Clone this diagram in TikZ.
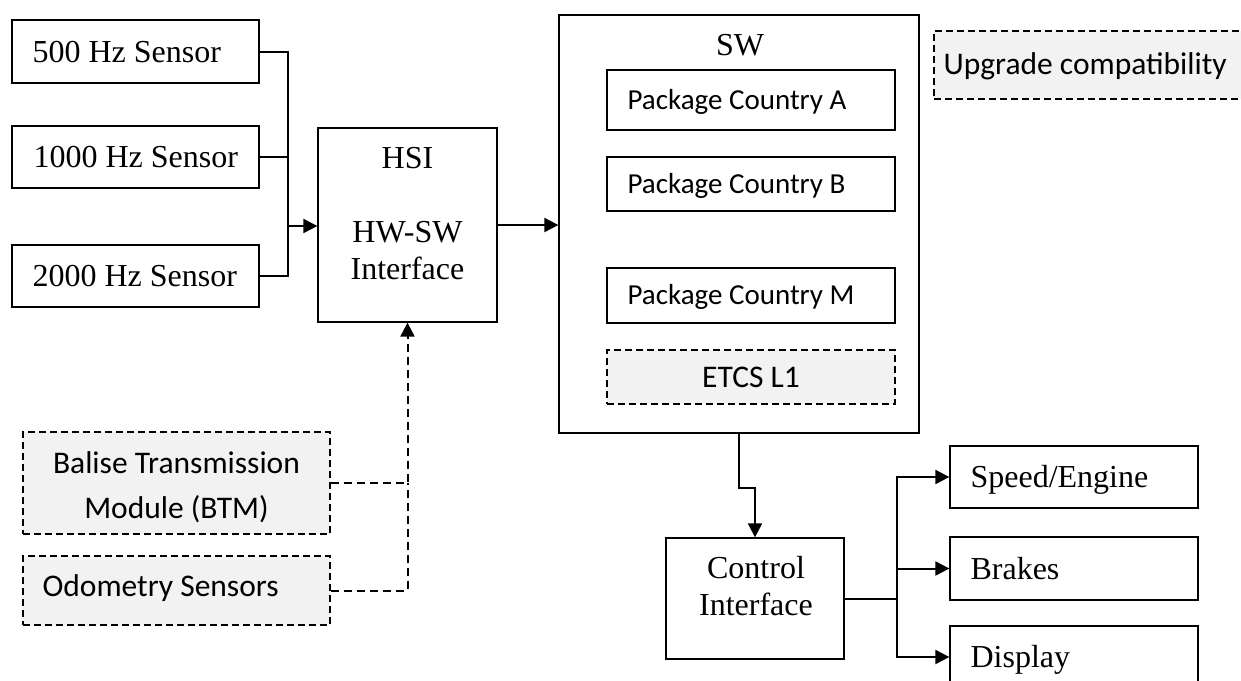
\documentclass[tikz,border=0pt]{standalone}
\usepackage{fontspec}
\setmainfont{Liberation Serif}
\newfontfamily\calibri{Carlito}
\usetikzlibrary{arrows.meta}
\definecolor{shade}{HTML}{F2F2F2}

\tikzset{
  frame/.style={draw, line width=1.3pt, rectangle, inner sep=0pt},
  serif/.style={font=\fontsize{32}{37}\selectfont},
  sans/.style={font=\fontsize{31.5}{37}\selectfont\calibri},
  pkgfont/.style={font=\fontsize{29}{34}\selectfont\calibri},
  dbox/.style={frame, fill=shade, dash pattern=on 7pt off 4pt},
  % single-line text, vertically centred on its capitals
  ltxt/.style={anchor=west, inner sep=0pt, text depth=0pt},
  stxt/.style={ltxt, serif, text height=21.5pt},
  ptxt/.style={ltxt, pkgfont, text height=18.7pt},
  ctxt/.style={ltxt, sans, text height=20.3pt},
  txt/.style={anchor=base, inner sep=0pt},
  conn/.style={line width=2pt},
  dconn/.style={line width=2pt, dash pattern=on 8pt off 5pt},
  tip/.style={-{Triangle[length=14pt,width=14pt]}},
}

\begin{document}
\begin{tikzpicture}[x=1pt, y=-1pt]
\useasboundingbox (0,0) rectangle (1241,680);
\clip (0,0) rectangle (1241,680);
\fill[white] (0,0) rectangle (1241,680);

% sensors
\node[frame, minimum width=247pt, minimum height=63pt] (s500)  at (135.5,51.5) {};
\node[frame, minimum width=247pt, minimum height=62pt] (s1000) at (135.5,157)  {};
\node[frame, minimum width=247pt, minimum height=62pt] (s2000) at (135.5,276)  {};
\node[stxt] (t500)  at ([xshift=21pt]s500.west)  {500 Hz Sensor};
\node[stxt] (t1000) at ([xshift=22pt]s1000.west) {1000 Hz Sensor};
\node[stxt] (t2000) at ([xshift=21pt]s2000.west) {2000 Hz Sensor};

% hardware/software interface
\node[frame, minimum width=179pt, minimum height=194pt] (hsi) at (407.5,225) {};
\node[txt, serif] (hsi1) at (407.5,168) {HSI};
\node[txt, serif] (hsi2) at (407.5,242) {HW-SW};
\node[txt, serif] (hsi3) at (407.5,279) {Interface};

% software block with country packages
\node[frame, minimum width=360pt, minimum height=418pt] (sw) at (739,224) {};
\node[txt, serif] (swl) at (740,55) {SW};
\node[frame, minimum width=288pt, minimum height=60pt] (pA) at (751,100)   {};
\node[frame, minimum width=288pt, minimum height=54pt] (pB) at (751,184)   {};
\node[frame, minimum width=288pt, minimum height=55pt] (pM) at (751,295.5) {};
\node[ptxt] (tA) at ([xshift=21pt]pA.west) {Package Country A};
\node[ptxt] (tB) at ([xshift=21pt]pB.west) {Package Country B};
\node[ptxt] (tM) at ([xshift=21pt]pM.west) {Package Country M};
\node[dbox, sans, minimum width=288pt, minimum height=54pt,
      text height=20pt, text depth=0pt] (etcs) at (751,377) {ETCS L1};

\node[dbox, minimum width=311pt, minimum height=68pt] (upg) at (1089.5,65) {};
\node[ctxt, text depth=2pt] (tupg) at ([xshift=10pt]upg.west) {Upgrade compatibility};

% optional inputs
\node[dbox, minimum width=307pt, minimum height=102pt] (btm) at (176.5,483) {};
\node[txt, sans] (btm1) at (176.5,473) {Balise Transmission};
\node[txt, sans] (btm2) at (176.5,518) {Module (BTM)};
\node[dbox, minimum width=307pt, minimum height=69pt] (odo) at (176.5,590.5) {};
\node[ctxt, text depth=9pt] (todo) at ([xshift=20pt]odo.west) {Odometry Sensors};

% control interface and outputs
\node[frame, minimum width=178pt, minimum height=121pt] (ctrl) at (755,598.5) {};
\node[txt, serif] (ctrl1) at (756,578) {Control};
\node[txt, serif] (ctrl2) at (756,615) {Interface};

\node[frame, minimum width=248pt, minimum height=62pt] (speed)   at (1074,477)   {};
\node[frame, minimum width=248pt, minimum height=63pt] (brakes)  at (1074,568.5) {};
\node[frame, minimum width=248pt, minimum height=62pt] (display) at (1074,657)   {};
\node[stxt] (tspeed)   at ([xshift=21pt]speed.west)   {Speed/Engine};
\node[stxt] (tbrakes)  at ([xshift=21pt]brakes.west)  {Brakes};
\node[stxt] (tdisplay) at ([xshift=21pt]display.west) {Display};

% connectors
\coordinate (bus) at (288,226);
\draw[conn] (s500.east) -| (bus);
\draw[conn] (s1000.east) -| (bus);
\draw[conn] (s2000.east) -| (bus);
\draw[conn, tip] (bus) -- (bus -| hsi.west);

\draw[conn, tip] (hsi.east) -- (hsi.east -| sw.west);

\draw[conn, tip] (sw.south) -- ++(0,54) -| (ctrl.north);

\coordinate (obus) at (897,598.5);
\draw[conn] (ctrl.east) -- (obus);
\draw[conn, tip] (obus) |- (speed.west);
\draw[conn, tip] (obus) |- (brakes.west);
\draw[conn, tip] (obus) |- (display.west);

\draw[dconn, tip] (btm.east) -| (hsi.south);
\draw[dconn] (odo.east) -| (btm.east -| hsi.south);
\end{tikzpicture}
\end{document}
